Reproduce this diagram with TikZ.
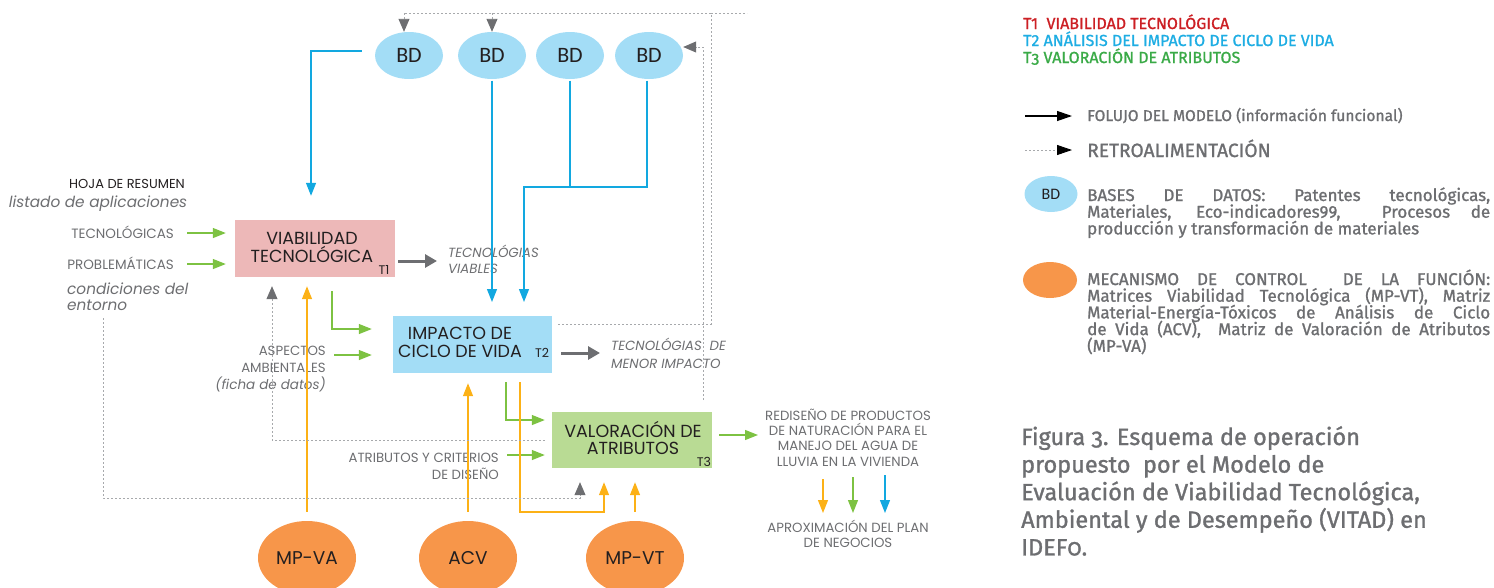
\documentclass[tikz,border=0pt]{standalone}
\usepackage{fontspec}
\setmainfont{Poppins}
\newfontfamily\legfont[FakeBold=1.2]{Fira Sans}
\newfontfamily\legfontos[FakeBold=1.2,Numbers=OldStyle]{Fira Sans}
\newfontfamily\bdfont{Carlito}
\usetikzlibrary{arrows.meta,calc,shapes.geometric}
\definecolor{txtgray}{HTML}{6D6E71}
\definecolor{darktxt}{HTML}{231F20}
\definecolor{pinkbox}{HTML}{EDB8B8}
\definecolor{bluebox}{HTML}{A3DDF6}
\definecolor{greenbox}{HTML}{B9DB94}
\definecolor{bdblue}{HTML}{A3DDF6}
\definecolor{orangeE}{HTML}{F7964A}
\definecolor{amber}{HTML}{FCB116}
\definecolor{greenL}{HTML}{7DC242}
\definecolor{blueL}{HTML}{12A8E0}
\definecolor{grayA}{HTML}{6D6E71}
\definecolor{dotgray}{HTML}{A7A9AC}
\definecolor{legred}{HTML}{CC1F24}
\definecolor{legblue}{HTML}{1EADE3}
\definecolor{leggreen}{HTML}{3AAA47}
\begin{document}
\begin{tikzpicture}[x=1pt,y=-1pt,
  procbox/.style={draw=none, minimum width=160pt, minimum height=57pt, inner sep=0pt},
  boxtxt/.style={text=darktxt, font=\fontsize{17.5}{18}\selectfont, inner sep=0pt},
  tsub/.style={text=darktxt, font=\fontsize{12.5}{13}\selectfont, inner sep=0pt},
  bdnode/.style={ellipse, fill=bdblue, minimum width=68pt, minimum height=47pt, inner sep=0pt, text=darktxt, font=\bdfont\fontsize{22}{22}\selectfont},
  ctrl/.style={ellipse, fill=orangeE, minimum width=98pt, minimum height=74pt, inner sep=0pt, text=darktxt, font=\fontsize{18.5}{18}\selectfont},
  lbl/.style={text=txtgray, font=\fontsize{13.5}{15}\selectfont, inner sep=0pt, anchor=base},
  slbl/.style={text=txtgray, font=\fontsize{13.3}{14}\selectfont, inner sep=0pt, anchor=base},
  ilbl/.style={text=txtgray, font=\itshape\fontsize{15.3}{17}\selectfont, inner sep=0pt, anchor=base},
  iglbl/.style={text=txtgray, font=\itshape\fontsize{13.3}{15}\selectfont, inner sep=0pt, anchor=base},
  arrowtip/.style={-{Triangle[length=13pt,width=10pt]}},
  grtip/.style={-{Triangle[length=13pt,width=11pt,color=grayA]}},
  gline/.style={greenL, line width=1.3pt, arrowtip},
  bline/.style={blueL, line width=1.3pt},
  oline/.style={amber, line width=1.3pt},
  dotline/.style={dotgray, line width=0.9pt, dash pattern=on 2pt off 2pt},
  thickgray/.style={grayA, line width=3pt, -{Triangle[length=12pt,width=13pt]}},
  legtxt/.style={inner sep=0pt, anchor=base west, font=\legfont\fontsize{17}{16.7}\selectfont, text=txtgray},
]
\useasboundingbox (0,0) rectangle (1494,587);

% ---------- process boxes ----------
\node[procbox, fill=pinkbox] (vt) at (315,248.5) {};
\node[procbox, fill=bluebox, minimum width=159pt] (icv) at (472.5,344.5) {};
\node[procbox, fill=greenbox, minimum height=56pt] (va) at (632,440) {};

\node[boxtxt, anchor=base] (vt1) at (312,244) {VIABILIDAD};
\node[boxtxt, anchor=base] (vt2) at (312,262) {TECNOLÓGICA};
\node[tsub, anchor=base] (t1) at (384,274) {T1};
\node[boxtxt, anchor=base] (ic1) at (460,339) {IMPACTO DE};
\node[boxtxt, anchor=base] (ic2) at (460,357) {CICLO DE VIDA};
\node[tsub, anchor=base] (t2) at (542,357) {T2};
\node[boxtxt, anchor=base] (va1) at (633,437) {VALORACIÓN DE};
\node[boxtxt, anchor=base] (va2) at (633,454) {ATRIBUTOS};
\node[tsub, anchor=base] (t3) at (704,466) {T3};

% ---------- data bases ----------
\node[bdnode] (bd1) at (409,55.5) {BD};
\node[bdnode] (bd2) at (492,55.5) {BD};
\node[bdnode] (bd3) at (570,55.5) {BD};
\node[bdnode] (bd4) at (649,55.5) {BD};

% ---------- control mechanisms ----------
\node[ctrl] (mpva) at (307,558) {MP-VA};
\node[ctrl] (acv) at (468,558) {ACV};
\node[ctrl] (mpvt) at (635,558) {MP-VT};

% ---------- labels ----------
\node[lbl, text=darktxt, font=\fontsize{13}{15}\selectfont] (hoja) at (127,188) {HOJA DE RESUMEN};
\node[ilbl] (listado) at (98,207) {listado de aplicaciones};
\node[lbl, anchor=base east] (tecno) at (174,238) {TECNOLÓGICAS};
\node[lbl, anchor=base east] (probl) at (174,269) {PROBLEMÁTICAS};
\node[ilbl, anchor=base west] (cond1) at (67,294) {condiciones del};
\node[ilbl, anchor=base west] (cond2) at (67,310) {entorno};
\node[iglbl, anchor=base west] (tv1) at (448,257) {TECNOLÓGIAS};
\node[iglbl, anchor=base west] (tv2) at (448,273) {VIABLES};
\node[slbl, anchor=base east] (asp1) at (326,355) {ASPECTOS};
\node[slbl, anchor=base east] (asp2) at (326,372) {AMBIENTALES};
\node[iglbl, anchor=base east, font=\itshape\fontsize{13.5}{15}\selectfont] (asp3) at (326,389) {(ficha de datos)};
\node[iglbl, anchor=base west] (tm1) at (611,350) {TECNOLÓGIAS\ \ DE};
\node[iglbl, anchor=base west] (tm2) at (611,368) {MENOR IMPACTO};
\node[slbl, anchor=base east] (atr1) at (499,462) {ATRIBUTOS Y CRITERIOS};
\node[slbl, anchor=base east] (atr2) at (499,479) {DE DISEÑO};
\node[slbl] (re1) at (848,420) {REDISEÑO DE PRODUCTOS};
\node[slbl] (re2) at (848,435) {DE NATURACIÓN PARA EL};
\node[slbl] (re3) at (848,450) {MANEJO DEL AGUA DE};
\node[slbl] (re4) at (848,466) {LLUVIA EN LA VIVIENDA};
\node[slbl] (ap1) at (848,532) {APROXIMACIÓN DEL PLAN};
\node[slbl] (ap2) at (848,547) {DE NEGOCIOS};

% ---------- coordinates ----------
\coordinate (bj) at (524,187);
\coordinate (icvtop) at (524,302);
\coordinate (g1) at (187,233);
\coordinate (g2) at (187,264);
\coordinate (asp) at (334,355);
\coordinate (atr) at (507,455);
\coordinate (vaout) at (758,435);
\coordinate (vtout) at (437,261);
\coordinate (icvout) at (600,353);
\coordinate (oL1) at (520,382);
\coordinate (oL2) at (604,512);
\coordinate (rA1) at (823,479); \coordinate (rA2) at (823,513);
\coordinate (rB1) at (853,477); \coordinate (rB2) at (853,513);
\coordinate (rC1) at (885,475); \coordinate (rC2) at (885,513);
\coordinate (f1a) at (711,324);
\coordinate (f1b) at (711,13);
\coordinate (f1c) at (404,13);
\coordinate (f1d) at (747,13);
\coordinate (f2a) at (703,400);
\coordinate (f2b) at (703,47);
\coordinate (f3a) at (272,440);
\coordinate (f4a) at (103,318);
\coordinate (f4b) at (103,498);
\coordinate (f4c) at (580,498);

% ---------- blue connectors ----------
\draw[bline, arrowtip] ([xshift=-13pt,yshift=4.5pt]bd1.west) -| ([xshift=-4pt,yshift=24pt]vt.north);
\draw[bline, arrowtip] ([yshift=-1.5pt]bd2.south) -- (bd2.south |- icvtop);
\draw[bline] ([yshift=-1.5pt]bd3.south) -- (bd3.south |- bj);
\draw[bline, arrowtip] ([xshift=-2pt,yshift=-1.5pt]bd4.south) |- (bj) -- (icvtop);

% ---------- green connectors ----------
\draw[gline, shorten >=9pt] (g1) -- (g1 -| vt.west);
\draw[gline, shorten >=9pt] (g2) -- (g2 -| vt.west);
\draw[gline, shorten >=21pt] ([xshift=17pt,yshift=-14pt]vt.south) |- ([yshift=15.5pt]icv.west);
\draw[gline, shorten >=21pt] (asp) -- (asp -| icv.west);
\draw[gline, shorten >=7pt] ([xshift=33.5pt,yshift=-9pt]icv.south) |- ([yshift=20pt]va.west);
\draw[gline, shorten >=7pt] (atr) -- (atr -| va.west);
\draw[gline] ([xshift=7pt,yshift=5pt]va.east) -- (vaout);

% ---------- gray outputs ----------
\draw[thickgray] ([xshift=3pt,yshift=-12.5pt]vt.east) -- (vtout);
\draw[thickgray] ([xshift=9pt,yshift=-8.5pt]icv.east) -- (icvout);

% ---------- orange controls ----------
\draw[oline, arrowtip, shorten >=9pt] ([yshift=9pt]mpva.north) -- (mpva.north |- vt.south);
\draw[oline, arrowtip, shorten >=10pt] ([yshift=9pt]acv.north) -- (acv.north |- icv.south);
\draw[oline, arrowtip, shorten >=14pt] ([yshift=9pt]mpvt.north) -- (mpvt.north |- va.south);
\draw[oline, arrowtip, shorten >=14pt] (oL1) |- (oL2) -- (oL2 |- va.south);

% ---------- final outputs ----------
\draw[oline, arrowtip] (rA1) -- (rA2);
\draw[greenL, line width=1.3pt, arrowtip] (rB1) -- (rB2);
\draw[bline, arrowtip] (rC1) -- (rC2);

% ---------- feedback (dotted) ----------
\draw[dotline] ([xshift=6pt,yshift=20.5pt]icv.east) -- (f1a) -- (f1b) -- (f1c);
\draw[dotline] (f1b) -- (f1d);
\draw[dotline, grtip] (f1c) -- (f1c |- bd1.north);
\draw[dotline, grtip] (bd2.north |- f1c) -- (bd2.north);
\draw[dotline, grtip] (f2a) -- (f2b) -- (f2b -| bd4.east);
\draw[dotline, grtip, shorten <=7pt, shorten >=9pt] (va.west) -- (f3a) -- (f3a |- vt.south);
\draw[dotline, grtip, shorten >=14pt] (f4a) -- (f4b) -- (f4c) -- (f4c |- va.south);

% ---------- legend ----------
\node[legtxt, font=\legfont\fontsize{16}{16}\selectfont, text=legred] (lg1) at (1023,29) {T1\ \ VIABILIDAD TECNOLÓGICA};
\node[legtxt, font=\legfont\fontsize{16}{16}\selectfont, text=legblue] (lg2) at (1023,46) {T2 ANÁLISIS DEL IMPACTO DE CICLO DE VIDA};
\node[legtxt, font=\legfont\fontsize{16}{16}\selectfont, text=leggreen] (lg3) at (1023,63) {T{\legfontos 3} VALORACIÓN DE ATRIBUTOS};

\coordinate (la1) at (1025,116); \coordinate (la2) at (1072,116);
\draw[black, line width=1.2pt, -{Triangle[length=15pt,width=10pt]}] (la1) -- (la2);
\node[legtxt, font=\legfont\fontsize{15.6}{16}\selectfont] (lfl) at (1087,121) {FOLUJO DEL MODELO (información funcional)};
\coordinate (lb1) at (1025,150); \coordinate (lb2) at (1072,150);
\draw[dotline, -{Triangle[length=15pt,width=10pt,color=black]}] (lb1) -- (lb2);
\node[legtxt, font=\legfont\fontsize{19.2}{20}\selectfont] (lrt) at (1087,157) {RETROALIMENTACIÓN};

\node[bdnode, minimum width=53pt, minimum height=36pt, font=\bdfont\fontsize{16}{16}\selectfont] (lbd) at (1051,194) {BD};
\node[legtxt] (lbd1) at (1087,201) {\makebox[403pt][s]{BASES DE DATOS: Patentes tecnológicas,}};
\node[legtxt] (lbd2) at (1087,217.7) {\makebox[403pt][s]{Materiales, Eco-indicadores99,\ \ Procesos de}};
\node[legtxt] (lbd3) at (1087,234.4) {producción y transformación de materiales};

\node[ctrl, minimum width=54pt, minimum height=36pt] (lctl) at (1050,280) {};
\node[legtxt] (lm1) at (1087,285) {\makebox[403pt][s]{MECANISMO DE CONTROL\ \ DE LA FUNCIÓN:}};
\node[legtxt] (lm2) at (1087,301.7) {\makebox[403pt][s]{Matrices Viabilidad Tecnológica (MP-VT), Matriz}};
\node[legtxt] (lm3) at (1087,318.4) {\makebox[403pt][s]{Material-Energía-Tóxicos de Análisis de Ciclo}};
\node[legtxt] (lm4) at (1087,335.1) {\makebox[403pt][s]{de Vida (ACV),\ \ Matriz de Valoración de Atributos}};
\node[legtxt] (lm5) at (1087,351.8) {(MP-VA)};

\node[legtxt, font=\legfont\fontsize{23.5}{27}\selectfont] (cap1) at (1021,445) {Figura {\legfontos 3}. Esquema de operación};
\node[legtxt, font=\legfont\fontsize{23.5}{27}\selectfont] (cap2) at (1021,472.6) {propuesto\ \ por el Modelo de};
\node[legtxt, font=\legfont\fontsize{23.5}{27}\selectfont] (cap3) at (1021,500.2) {Evaluación de Viabilidad Tecnológica,};
\node[legtxt, font=\legfont\fontsize{23.5}{27}\selectfont] (cap4) at (1021,527.8) {Ambiental y de Desempeño (VITAD) en};
\node[legtxt, font=\legfont\fontsize{23.5}{27}\selectfont] (cap5) at (1021,555.4) {IDEF{\legfontos 0}.};
\end{tikzpicture}
\end{document}
